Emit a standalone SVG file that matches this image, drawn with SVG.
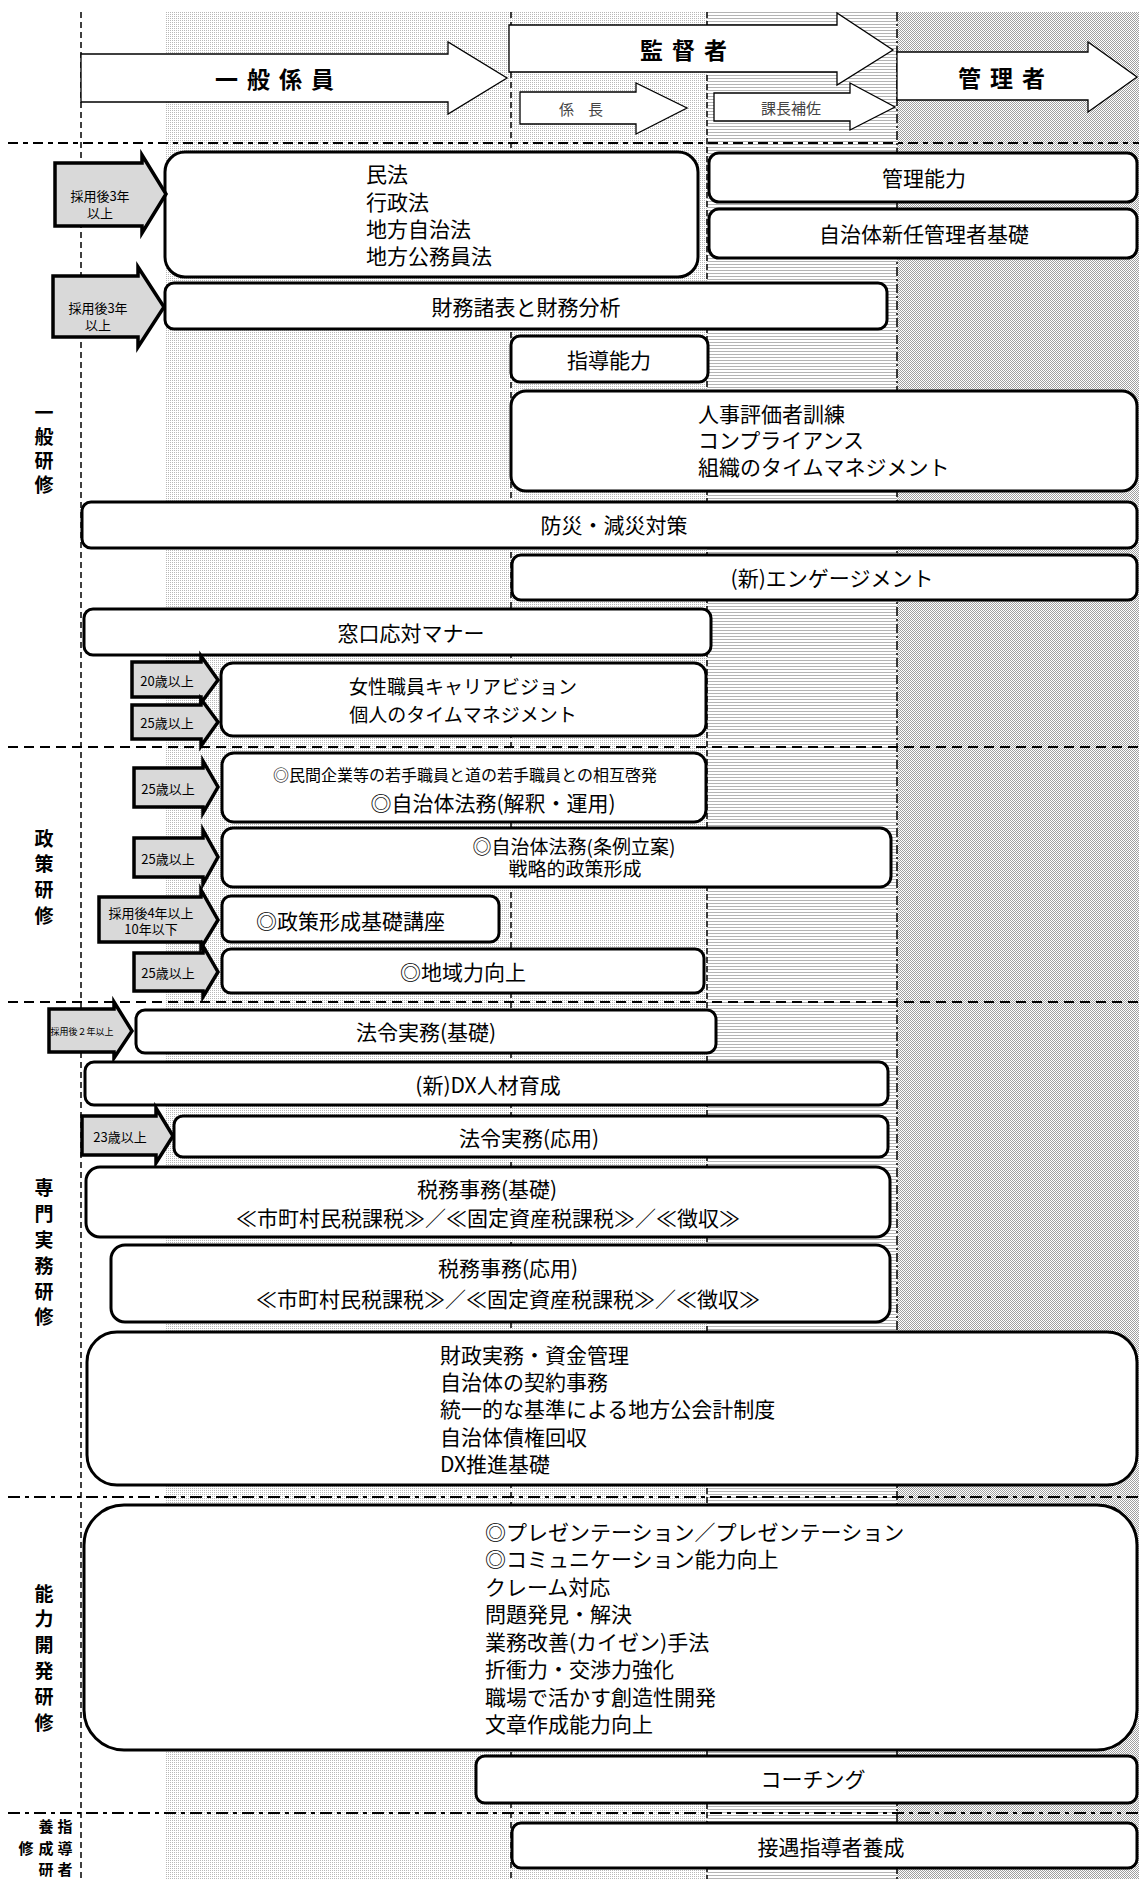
<svg xmlns="http://www.w3.org/2000/svg" width="1139" height="1879" viewBox="0 0 1139 1879">
<defs>
<pattern id="p1" width="2" height="2" patternUnits="userSpaceOnUse"><rect width="2" height="2" fill="#ffffff"/><rect width="1" height="1" fill="#b8b8b8"/></pattern>
<pattern id="p2" width="3" height="3" patternUnits="userSpaceOnUse"><rect width="3" height="3" fill="#ffffff"/><rect width="3" height="1" fill="#b4b4b4"/></pattern>
<pattern id="p3" width="2" height="2" patternUnits="userSpaceOnUse"><rect width="2" height="2" fill="#ffffff"/><rect width="1" height="1" fill="#a0a0a0"/><rect x="1" y="1" width="1" height="1" fill="#a0a0a0"/></pattern>
<style>
text{font-family:"Noto Sans CJK JP","Noto Sans CJK SC",sans-serif;fill:#000;dominant-baseline:central}
.t{font-size:21px;text-anchor:middle}
.t2{font-size:19px;text-anchor:middle}
.ts{font-size:21px;text-anchor:start}
.box{fill:#fff;stroke:#000;stroke-width:3}
.lab{fill:#d9d9d9;stroke:#000;stroke-width:3.5;stroke-linejoin:miter}
.lt{font-size:13px;text-anchor:middle}
.hdr{fill:#fff;stroke:#000;stroke-width:1.3}
.ht{font-size:23px;font-weight:bold;text-anchor:middle;letter-spacing:9px}
.hs{font-size:15px;text-anchor:middle;fill:#444}
.cat{font-size:19px;font-weight:bold;text-anchor:middle}
.cs{font-size:15px;font-weight:bold;text-anchor:middle}
.vd{stroke:#000;stroke-width:1.5;stroke-dasharray:6,4;fill:none}
.hd{stroke:#000;stroke-width:2;stroke-dasharray:10,6;fill:none}
.hdd{stroke:#000;stroke-width:2;stroke-dasharray:12,5,4,5;fill:none}
</style>
</defs>

<g id="background">
<rect x="0" y="0" width="1139" height="1879" fill="#fff"/>
<rect x="165" y="12" width="542" height="1867" fill="url(#p1)"/>
<rect x="707" y="12" width="190" height="1867" fill="url(#p2)"/>
<rect x="897" y="12" width="242" height="1867" fill="url(#p3)"/>
</g>

<g id="grid">
<line class="vd" x1="81" y1="12" x2="81" y2="1879"/>
<line class="vd" x1="511" y1="12" x2="511" y2="1879"/>
<line class="vd" x1="707" y1="12" x2="707" y2="1879" style="stroke-dasharray:6,3"/>
<line class="vd" x1="897" y1="12" x2="897" y2="1879" style="stroke-dasharray:9,3,2,3"/>
<line class="hd" x1="8" y1="143" x2="1139" y2="143" style="stroke-dasharray:10,5,5,5"/>
<line class="hd" x1="8" y1="747" x2="1139" y2="747"/>
<line class="hd" x1="8" y1="1002" x2="1139" y2="1002"/>
<line class="hdd" x1="8" y1="1497" x2="1139" y2="1497"/>
<line class="hdd" x1="8" y1="1813" x2="1139" y2="1813"/>
</g>

<g id="header">
<g id="h-ippan"><path class="hdr" d="M81,54 L448,54 L448,42 L507,78 L448,114 L448,102 L81,102 Z"/><text class="ht" x="279" y="78">一般係員</text></g>
<g id="h-kantoku"><path class="hdr" d="M509,25 L837,25 L837,13 L893,50 L837,85 L837,72 L509,72 Z"/><text class="ht" x="688" y="49">監督者</text></g>
<g id="h-kakaricho"><path class="hdr" d="M520,92 L636,92 L636,83 L687,108 L636,134 L636,124 L520,124 Z"/><text class="hs" x="588" y="108" style="letter-spacing:14px">係長</text></g>
<g id="h-hosa"><path class="hdr" d="M714,93 L850,93 L850,83 L895,107 L850,130 L850,121 L714,121 Z"/><text class="hs" x="791" y="107">課長補佐</text></g>
<g id="h-kanri"><path class="hdr" d="M897,52 L1088,52 L1088,42 L1137,77 L1088,112 L1088,100 L897,100 Z"/><text class="ht" x="1006" y="77">管理者</text></g>
</g>

<g id="categories">
<g id="cat-ippan"><text class="cat" x="44" y="411">一</text><text class="cat" x="44" y="435">般</text><text class="cat" x="44" y="459">研</text><text class="cat" x="44" y="483">修</text></g>
<g id="cat-seisaku"><text class="cat" x="44" y="837">政</text><text class="cat" x="44" y="862">策</text><text class="cat" x="44" y="888">研</text><text class="cat" x="44" y="914">修</text></g>
<g id="cat-senmon"><text class="cat" x="44" y="1186">専</text><text class="cat" x="44" y="1212">門</text><text class="cat" x="44" y="1238">実</text><text class="cat" x="44" y="1264">務</text><text class="cat" x="44" y="1290">研</text><text class="cat" x="44" y="1315">修</text></g>
<g id="cat-noryoku"><text class="cat" x="44" y="1592">能</text><text class="cat" x="44" y="1617">力</text><text class="cat" x="44" y="1643">開</text><text class="cat" x="44" y="1669">発</text><text class="cat" x="44" y="1695">研</text><text class="cat" x="44" y="1721">修</text></g>
<g id="cat-shido"><text class="cs" x="46" y="1825">養</text><text class="cs" x="65" y="1825">指</text><text class="cs" x="26" y="1847">修</text><text class="cs" x="46" y="1847">成</text><text class="cs" x="65" y="1847">導</text><text class="cs" x="46" y="1868">研</text><text class="cs" x="65" y="1868">者</text></g>
</g>

<g id="connectors"></g>

<g id="nodes">
<g id="n-minpo"><rect class="box" x="165" y="152" width="533" height="125" rx="20"/>
<text class="ts" x="366" y="173">民法</text><text class="ts" x="366" y="201">行政法</text><text class="ts" x="366" y="228">地方自治法</text><text class="ts" x="366" y="255">地方公務員法</text></g>
<g id="l-minpo"><path class="lab" d="M55,163 L142,163 L142,155 L166,194 L142,233 L142,226 L55,226 Z"/><text class="lt" x="100" y="195">採用後3年</text><text class="lt" x="100" y="212">以上</text></g>
<g id="n-kanri"><rect class="box" x="709" y="153" width="428" height="49" rx="10"/><text class="t" x="924" y="177">管理能力</text></g>
<g id="n-shinnin"><rect class="box" x="709" y="209" width="428" height="49" rx="10"/><text class="t" x="924" y="233">自治体新任管理者基礎</text></g>
<g id="n-zaimu"><rect class="box" x="165" y="283" width="722" height="46" rx="9"/><text class="t" x="526" y="306">財務諸表と財務分析</text></g>
<g id="l-zaimu"><path class="lab" d="M53,276 L138,276 L138,267 L164,307 L138,347 L138,337 L53,337 Z"/><text class="lt" x="98" y="307">採用後3年</text><text class="lt" x="98" y="324">以上</text></g>
<g id="n-shido"><rect class="box" x="511" y="336" width="197" height="46" rx="9"/><text class="t" x="609" y="359">指導能力</text></g>
<g id="n-jinji"><rect class="box" x="511" y="391" width="626" height="100" rx="15"/>
<text class="ts" x="698" y="413">人事評価者訓練</text><text class="ts" x="698" y="439">コンプライアンス</text><text class="ts" x="698" y="466">組織のタイムマネジメント</text></g>
<g id="n-bosai"><rect class="box" x="82" y="502" width="1055" height="46" rx="9"/><text class="t" x="614" y="524">防災・減災対策</text></g>
<g id="n-engage"><rect class="box" x="512" y="555" width="625" height="45" rx="9"/><text class="t" x="832" y="577">(新)エンゲージメント</text></g>
<g id="n-madoguchi"><rect class="box" x="84" y="609" width="627" height="46" rx="9"/><text class="t" x="411" y="632">窓口応対マナー</text></g>
<g id="n-josei"><rect class="box" x="221" y="663" width="485" height="73" rx="12"/>
<text class="t2" x="463" y="685">女性職員キャリアビジョン</text><text class="t2" x="463" y="713">個人のタイムマネジメント</text></g>
<g id="l-josei20"><path class="lab" d="M132,662 L201,662 L201,656 L218,680 L201,703 L201,697 L132,697 Z"/><text class="lt" x="167" y="680">20歳以上</text></g>
<g id="l-josei25"><path class="lab" d="M132,705 L201,705 L201,699 L218,722 L201,746 L201,739 L132,739 Z"/><text class="lt" x="167" y="722">25歳以上</text></g>

<g id="n-minkan"><rect class="box" x="222" y="753" width="484" height="69" rx="12"/>
<text class="t" x="465" y="774" style="font-size:16px">◎民間企業等の若手職員と道の若手職員との相互啓発</text><text class="t" x="493" y="802">◎自治体法務(解釈・運用)</text></g>
<g id="l-minkan"><path class="lab" d="M134,768 L203,768 L203,761 L218,787 L203,813 L203,807 L134,807 Z"/><text class="lt" x="168" y="788">25歳以上</text></g>
<g id="n-jorei"><rect class="box" x="222" y="828" width="669" height="59" rx="11"/>
<text class="t2" x="574" y="845">◎自治体法務(条例立案)</text><text class="t2" x="575" y="867">戦略的政策形成</text></g>
<g id="l-jorei"><path class="lab" d="M134,838 L203,838 L203,830 L218,857 L203,884 L203,877 L134,877 Z"/><text class="lt" x="168" y="858">25歳以上</text></g>
<g id="n-seisaku"><rect class="box" x="222" y="896" width="277" height="46" rx="9"/><text class="ts" x="256" y="920">◎政策形成基礎講座</text></g>
<g id="l-seisaku"><path class="lab" d="M99,897 L201,897 L201,890 L218,920 L201,948 L201,942 L99,942 Z"/><text class="lt" x="151" y="912">採用後4年以上</text><text class="lt" x="151" y="928">10年以下</text></g>
<g id="n-chiiki"><rect class="box" x="222" y="949" width="482" height="44" rx="9"/><text class="t" x="463" y="971">◎地域力向上</text></g>
<g id="l-chiiki"><path class="lab" d="M134,953 L203,953 L203,946 L218,972 L203,997 L203,991 L134,991 Z"/><text class="lt" x="168" y="972">25歳以上</text></g>

<g id="n-horei1"><rect class="box" x="136" y="1010" width="580" height="43" rx="9"/><text class="t" x="426" y="1031">法令実務(基礎)</text></g>
<g id="l-horei1"><path class="lab" d="M49,1009 L114,1009 L114,1002 L132,1031 L114,1058 L114,1052 L49,1052 Z"/><text class="lt" x="82" y="1031" style="font-size:9px">採用後２年以上</text></g>
<g id="n-dx"><rect class="box" x="85" y="1062" width="803" height="43" rx="9"/><text class="t" x="488" y="1084">(新)DX人材育成</text></g>
<g id="n-horei2"><rect class="box" x="174" y="1116" width="714" height="41" rx="9"/><text class="t" x="529" y="1137">法令実務(応用)</text></g>
<g id="l-horei2"><path class="lab" d="M82,1116 L156,1116 L156,1108 L173,1136 L156,1163 L156,1155 L82,1155 Z"/><text class="lt" x="120" y="1136">23歳以上</text></g>
<g id="n-zeimu1"><rect class="box" x="86" y="1167" width="804" height="70" rx="14"/>
<text class="t" x="487" y="1188">税務事務(基礎)</text><text class="t" x="488" y="1217">≪市町村民税課税≫／≪固定資産税課税≫／≪徴収≫</text></g>
<g id="n-zeimu2"><rect class="box" x="111" y="1245" width="779" height="77" rx="14"/>
<text class="t" x="508" y="1267">税務事務(応用)</text><text class="t" x="508" y="1298">≪市町村民税課税≫／≪固定資産税課税≫／≪徴収≫</text></g>
<g id="n-zaisei"><rect class="box" x="87" y="1332" width="1050" height="153" rx="30"/>
<text class="ts" x="440" y="1354">財政実務・資金管理</text><text class="ts" x="440" y="1381">自治体の契約事務</text><text class="ts" x="440" y="1408">統一的な基準による地方公会計制度</text><text class="ts" x="440" y="1436">自治体債権回収</text><text class="ts" x="440" y="1463">DX推進基礎</text></g>

<g id="n-noryoku"><rect class="box" x="84" y="1505" width="1053" height="245" rx="40"/>
<text class="ts" x="485" y="1531">◎プレゼンテーション／プレゼンテーション</text><text class="ts" x="485" y="1558">◎コミュニケーション能力向上</text><text class="ts" x="485" y="1586">クレーム対応</text><text class="ts" x="485" y="1613">問題発見・解決</text><text class="ts" x="485" y="1641">業務改善(カイゼン)手法</text><text class="ts" x="485" y="1668">折衝力・交渉力強化</text><text class="ts" x="485" y="1696">職場で活かす創造性開発</text><text class="ts" x="485" y="1723">文章作成能力向上</text></g>
<g id="n-coaching"><rect class="box" x="476" y="1756" width="661" height="47" rx="9"/><text class="t" x="813" y="1778">コーチング</text></g>
<g id="n-setsugu"><rect class="box" x="512" y="1823" width="625" height="45" rx="9"/><text class="t" x="831" y="1846">接遇指導者養成</text></g>
</g>
</svg>
